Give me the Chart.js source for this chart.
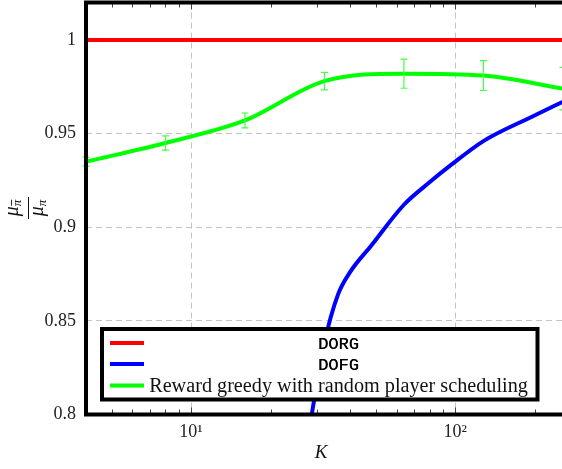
<!DOCTYPE html>
<html>
<head>
<meta charset="utf-8">
<script src="https://cdn.jsdelivr.net/npm/chart.js@4"></script>
<style>
html,body{margin:0;padding:0;overflow:hidden;background:#fff;}
canvas{display:block;}
</style>
</head>
<body>
<canvas id="c" width="580" height="469"></canvas>
<script>
// ---- data ----
const kValues = [4, 8, 16, 32, 64, 128, 256];
const dorgValues = [1, 1, 1, 1, 1, 1, 1];
const greedyValues = [0.935, 0.945, 0.957, 0.978, 0.982, 0.981, 0.974];
const greedyErrors = [0.0024, 0.0038, 0.004, 0.0047, 0.0078, 0.008, 0.0113];
const kDofg = [16, 24, 32, 36, 40, 48, 64, 80, 96, 128, 192, 256];
const dofgValues = [0.55, 0.73, 0.838, 0.864, 0.876, 0.890, 0.912, 0.924, 0.933, 0.946, 0.9585, 0.967];
const xMajorTicks = [10, 100];
const xMajorLabels = ['10\u00B9', '10\u00B2'];
const xMinorTicks = [5, 6, 7, 8, 9, 20, 30, 40, 50, 60, 70, 80, 90, 200];
const yTicks = [0.8, 0.85, 0.9, 0.95, 1];
const yTickLabels = ['0.8', '0.85', '0.9', '0.95', '1'];
const seriesLabels = ['DORG', 'DOFG', 'Reward greedy with random player scheduling'];
const seriesColors = ['#ff0000', '#0000ff', '#00ff00'];

const pts = (xs, ys) => xs.map((x, i) => ({x: x, y: ys[i]}));

const overlay = {
  id: 'overlay',
  afterDatasetsDraw(chart) {
    const ctx = chart.ctx;
    const a = chart.chartArea;
    const xs = chart.scales.x, ys = chart.scales.y;
    ctx.save();
    // error bars
    ctx.strokeStyle = '#44ff44';
    ctx.lineWidth = 1.2;
    kValues.forEach((k, i) => {
      const px = xs.getPixelForValue(k);
      const y1 = ys.getPixelForValue(greedyValues[i] + greedyErrors[i]);
      const y2 = ys.getPixelForValue(greedyValues[i] - greedyErrors[i]);
      ctx.beginPath();
      ctx.moveTo(px, y1); ctx.lineTo(px, y2);
      ctx.moveTo(px - 3.5, y1); ctx.lineTo(px + 3.5, y1);
      ctx.moveTo(px - 3.5, y2); ctx.lineTo(px + 3.5, y2);
      ctx.stroke();
    });
    // minor / major tick marks inside frame
    ctx.strokeStyle = '#444';
    ctx.lineWidth = 1;
    const drawTick = (v, len) => {
      const px = Math.round(xs.getPixelForValue(v)) + 0.5;
      ctx.beginPath();
      ctx.moveTo(px, a.bottom); ctx.lineTo(px, a.bottom - len);
      ctx.moveTo(px, a.top); ctx.lineTo(px, a.top + len);
      ctx.stroke();
    };
    xMinorTicks.forEach(v => drawTick(v, 5));
    xMajorTicks.forEach(v => drawTick(v, 7));
    // frame
    ctx.strokeStyle = '#000';
    ctx.lineWidth = 4;
    ctx.strokeRect(a.left, a.top, a.right - a.left, a.bottom - a.top);
    // legend
    const lx1 = 102, lx2 = 537.5, ly1 = 329, ly2 = 399.5;
    ctx.fillStyle = '#fff';
    ctx.fillRect(lx1, ly1, lx2 - lx1, ly2 - ly1);
    ctx.strokeRect(lx1, ly1, lx2 - lx1, ly2 - ly1);
    const rows = [343, 364, 385.5];
    const textLeft = 149, textRight = 528, textMid = (textLeft + textRight) / 2;
    ctx.textBaseline = 'middle';
    ctx.textAlign = 'center';
    rows.forEach((ry, i) => {
      ctx.strokeStyle = seriesColors[i];
      ctx.lineWidth = 4;
      ctx.beginPath(); ctx.moveTo(110, ry); ctx.lineTo(144, ry); ctx.stroke();
      ctx.fillStyle = '#000';
      if (i < 2) {
        ctx.font = '17px "Liberation Mono"';
        ctx.fillText(seriesLabels[i], textMid, ry + 1);
        ctx.fillText(seriesLabels[i], textMid + 0.3, ry + 1);
      } else {
        ctx.fillStyle = '#111';
        let fs = 18;
        ctx.font = fs + 'px "Liberation Serif"';
        const w = ctx.measureText(seriesLabels[i]).width;
        fs = fs * (textRight - textLeft) / w;
        ctx.font = fs.toFixed(2) + 'px "Liberation Serif"';
        ctx.fillText(seriesLabels[i], textMid, ry + 1);
      }
    });
    // x title
    ctx.fillStyle = '#111';
    ctx.font = 'italic 19px "Liberation Serif"';
    ctx.fillText('K', 321, 453);
    // y title (fraction), rotated
    ctx.translate(28, 208);
    ctx.rotate(-Math.PI / 2);
    ctx.textBaseline = 'alphabetic';
    ctx.textAlign = 'left';
    const bigF = 'italic 20px "Liberation Serif"';
    const smallF = 'italic 13px "Liberation Serif"';
    ctx.font = bigF;
    const muW = ctx.measureText('\u03BC').width;
    ctx.font = smallF;
    const piW = ctx.measureText('\u03C0').width;
    const totW = muW + piW;
    let x0 = -totW / 2;
    ctx.font = bigF;
    ctx.fillText('\u03BC', x0, -10);
    ctx.font = smallF;
    ctx.fillText('\u03C0', x0 + muW, -7);
    ctx.lineWidth = 0.9;
    ctx.strokeStyle = '#111';
    ctx.beginPath();
    ctx.moveTo(x0 + muW + 0.5, -16.5); ctx.lineTo(x0 + muW + piW, -16.5);
    ctx.stroke();
    ctx.lineWidth = 1;
    ctx.beginPath(); ctx.moveTo(-11, 0.5); ctx.lineTo(11, 0.5); ctx.stroke();
    ctx.font = bigF;
    ctx.fillText('\u03BC', x0, 15);
    ctx.font = smallF;
    ctx.fillText('\u03C0', x0 + muW, 18);
    ctx.restore();
  }
};

new Chart(document.getElementById('c'), {
  type: 'line',
  data: {
    datasets: [
      {label: seriesLabels[0], data: pts(kValues, dorgValues), borderColor: seriesColors[0], borderWidth: 4, pointRadius: 0, fill: false},
      {label: seriesLabels[1], data: pts(kDofg, dofgValues), borderColor: seriesColors[1], borderWidth: 4, pointRadius: 0, fill: false, cubicInterpolationMode: 'monotone'},
      {label: seriesLabels[2], data: pts(kValues, greedyValues), borderColor: seriesColors[2], borderWidth: 4, pointRadius: 0, fill: false, cubicInterpolationMode: 'monotone'}
    ]
  },
  options: {
    responsive: false,
    animation: false,
    devicePixelRatio: 1,
    layout: {padding: {left: 0, right: 11, top: 2.5, bottom: 0}},
    plugins: {legend: {display: false}, tooltip: {enabled: false}},
    scales: {
      x: {
        type: 'logarithmic',
        min: 4, max: 270,
        afterBuildTicks: s => { s.ticks = xMajorTicks.map(v => ({value: v})); },
        afterFit: s => { s.height = 54.5; s.paddingLeft = 0; s.paddingRight = 0; s.paddingTop = 0; s.paddingBottom = 0; },
        ticks: {
          autoSkip: false, maxRotation: 0, padding: 7,
          color: '#222',
          font: {family: '"Liberation Serif"', size: 18},
          callback: (v) => { const i = xMajorTicks.indexOf(v); return i >= 0 ? xMajorLabels[i] : ''; }
        },
        grid: {color: '#c4c4c4', lineWidth: 1, drawTicks: false},
        border: {display: false, dash: [6, 4]}
      },
      y: {
        type: 'linear',
        min: 0.8, max: 1.02,
        afterBuildTicks: s => { s.ticks = yTicks.map(v => ({value: v})); },
        afterFit: s => { s.width = 86; s.paddingTop = 0; s.paddingBottom = 0; s.paddingLeft = 0; s.paddingRight = 0; },
        ticks: {
          padding: 10, color: '#222',
          font: {family: '"Liberation Serif"', size: 18},
          callback: (v) => { const i = yTicks.indexOf(v); return i >= 0 ? yTickLabels[i] : ''; }
        },
        grid: {color: '#c4c4c4', lineWidth: 1, drawTicks: false},
        border: {display: false, dash: [6, 4]}
      }
    }
  },
  plugins: [overlay]
});
</script>
</body>
</html>
